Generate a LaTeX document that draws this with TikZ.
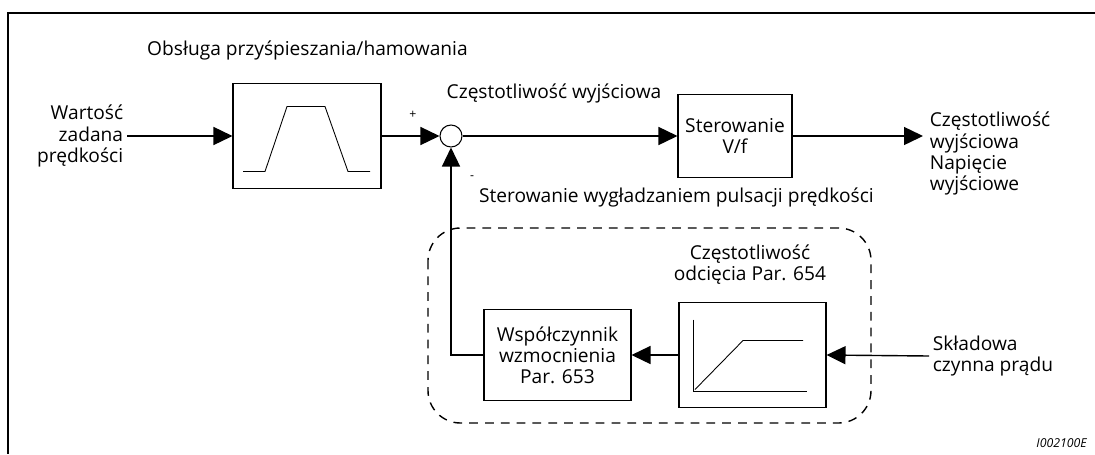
\documentclass[tikz,border=0pt]{standalone}
\usepackage{fontspec}
\setmainfont{Open Sans}
\usepackage{tikz}
\usetikzlibrary{arrows.meta,positioning,calc}

\begin{document}
\begin{tikzpicture}[
  x=0.02cm, y=-0.02cm,
  every node/.style={font=\fontsize{10.9}{12}\selectfont},
  blok/.style={draw,line width=0.6pt,inner sep=2pt,align=center},
  sum/.style={circle,draw,line width=0.6pt,minimum size=0.44cm,inner sep=0pt},
  arr/.style={-{Triangle[length=3.8mm,width=3.6mm]},line width=0.8pt},
  plot/.style={line width=0.5pt},
  group/.style={draw,line width=0.8pt,dash pattern=on 5pt off 4pt,rounded corners=0.65cm}
]
\useasboundingbox (0,0) rectangle (1095,454);
\draw[line width=1.1pt] (1095,13) -- (8,13) -- (8,454);

\node[blok,minimum width=2.96cm,minimum height=2.1cm] (ramp) at (307,136) {};
\node[sum] (sum) at (451,136) {};
\node[blok,minimum width=2.28cm,minimum height=1.66cm] (vf) at (735,136) {Sterowanie\\V/f};
\node[blok,minimum width=2.94cm,minimum height=1.82cm] (gain) at (557.5,355) {Współczynnik\\wzmocnienia\\Par. 653};
\node[blok,minimum width=2.94cm,minimum height=2.1cm] (filt) at (752.5,355) {};

\draw[plot,shift={(ramp.center)}] (-64,35.5) -- (-42,35.5) -- (-20,-29.5) -- (18,-29.5) -- (41,35.5) -- (63,35.5);
\draw[plot,shift={(filt.center)}] (-59.5,-35.5) -- (-59.5,36.5) -- (54.5,36.5);
\draw[plot,shift={(filt.center)}] (-57.5,34.5) -- (-9.5,-14.5) -- (50.5,-14.5);

\node[anchor=east,align=right,inner sep=2pt] (ref) at (127,136) {Wartość\\zadana\\prędkości};
\node[anchor=west,align=left,inner sep=2pt] (out) at (926,153.5) {Częstotliwość\\wyjściowa\\Napięcie\\wyjściowe};
\node[anchor=west,align=left,inner sep=2pt] (iq) at (929,356) {Składowa\\czynna prądu};
\coordinate (outpt) at (923,136);

\node[anchor=west] (acc) at (141,50) {Obsługa przyśpieszania/hamowania};
\node (fout) at (554,93) {Częstotliwość wyjściowa};
\node[align=center] (fc) at (750,265) {Częstotliwość\\odcięcia Par. 654};
\node[anchor=west] (smooth) at (473,197) {Sterowanie wygładzaniem pulsacji prędkości};
\node[font=\scriptsize] (plus) at (413,115) {+};
\node[font=\scriptsize] (minus) at (472,178) {-};
\node[anchor=east,font=\scriptsize\itshape] (code) at (1093,443) {I002100E};

\draw[group] (428,228) rectangle (871,423);

\draw[arr] (ref.east) -- (ramp.west);
\draw[arr] (ramp.east) -- (sum.west);
\draw[arr] (sum.east) -- (vf.west);
\draw[arr] (vf.east) -- (outpt);
\draw[arr] (iq.west) -- (filt.east);
\draw[arr] (filt.west) -- (gain.east);
\draw[arr] (gain.west) -| (sum.south);
\end{tikzpicture}
\end{document}
